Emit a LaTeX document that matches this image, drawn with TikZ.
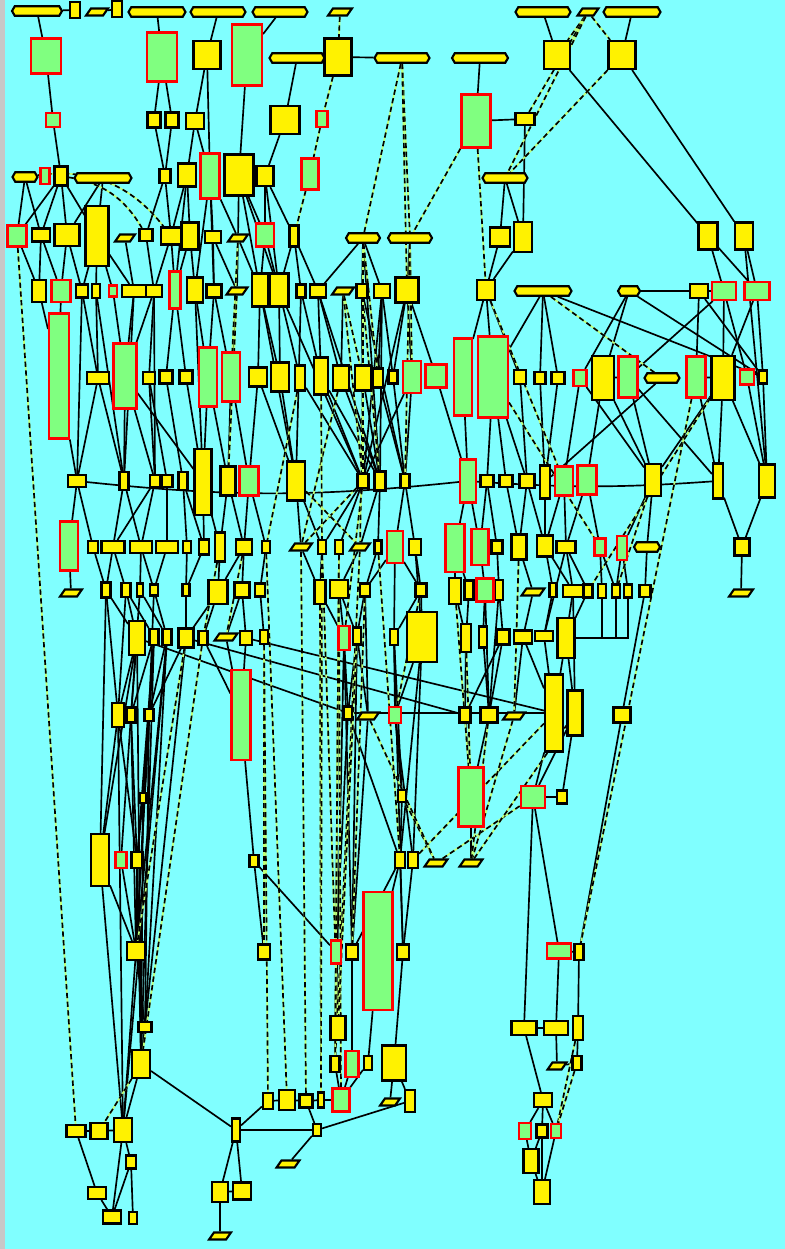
\documentclass[tikz,border=0pt]{standalone}
\usepackage{tikz}
\usetikzlibrary{shapes.symbols,backgrounds}
\definecolor{sky}{RGB}{128,255,255}
\definecolor{leaf}{RGB}{128,255,128}
\definecolor{lime}{RGB}{190,255,120}
\begin{document}
\begin{tikzpicture}[x=0.2mm,y=-0.2mm,
  every node/.style={inner sep=0pt,line width=1.2pt},
  ybox/.style={rectangle,draw=black,fill=yellow},
  gbox/.style={rectangle,draw=red,fill=leaf},
  oval/.style={signal,signal to=west and east,signal pointer angle=120,draw=black,fill=yellow,minimum height=1.9mm},
  para/.style={rectangle,draw=black,fill=yellow,minimum height=1.4mm,xslant=0.7,transform shape},
  link/.style={line width=0.95pt},
  dlink/.style={line width=0.95pt,dash pattern=on 3pt off 2pt,preaction={draw=lime,solid,line width=0.95pt}}]
\useasboundingbox (0,0) rectangle (785,1249);
\foreach \n/\x/\y/\w/\h in {
a2/75/10/10/16, a4/117/9/10/16,
b3/207/55/27/28, b6/338/57/27/37, b9/557/55/26/28, b10/622/55/27/28,
c2/154/120/13/15, c3/172/120/13/15, c4/195/121/18/16, c5/285/120/29/28, c8/525/119/19/12,
d3/61/176/13/19, d5/165/176/11/14, d6/187/175/18/23, d8/239/175/29/41, d9/265/176/17/20,
e2/41/235/18/13, e3/67/235/25/22, e4/97/236/23/60, e6/146/235/13/12, e7/171/236/20/17, e8/190/236/17/27, e9/213/237/16/12, e12/294/236/9/21, e15/500/237/20/19, e16/523/237/18/30, e17/708/236/19/27, e18/744/236/18/27,
f1/39/291/14/22, f3/82/291/12/13, f4/96/291/8/14, f6/134/291/24/12, f7/154/291/16/12, f9/195/290/16/25, f10/214/291/15/13, f12/260/290/16/33, f13/279/290/19/33, f14/301/291/9/13, f15/318/291/16/13, f17/362/291/11/14, f18/382/291/16/14, f19/407/290/23/25, f20/486/290/18/20, f23/699/291/18/14,
g2/98/378/22/12, g4/149/378/12/12, g5/166/377/13/13, g6/186/377/13/13, g9/258/377/18/19, g10/280/377/18/29, g11/300/378/10/25, g12/321/376/14/37, g13/341/378/16/25, g14/363/378/16/25, g15/378/378/10/19, g16/393/377/9/13, g21/520/377/12/14, g22/540/378/11/12, g23/558/378/13/12, g25/603/378/22/44, g29/723/378/23/44, g31/763/377/8/13,
h1/77/481/18/12, h2/124/481/9/18, h3/155/481/10/12, h4/167/481/11/12, h5/183/481/9/18, h6/203/482/17/66, h7/228/481/15/29, h9/296/481/18/39, h10/363/481/11/14, h11/380/481/11/19, h12/405/481/9/14, h14/487/481/13/12, h15/506/481/13/12, h16/527/481/15/14, h17/545/482/10/33, h20/653/480/16/32, h21/718/481/10/35, h22/767/481/16/33,
i2/93/547/10/12, i3/113/547/23/12, i4/141/547/22/12, i5/167/547/22/12, i6/187/547/8/12, i7/204/547/10/15, i8/220/547/10/29, i9/244/547/16/15, i10/266/547/8/12, i12/322/547/8/14, i13/339/547/8/14, i15/378/547/7/13, i17/415/547/12/16, i20/497/547/11/13, i21/519/547/15/25, i22/545/546/16/21, i23/566/547/19/12, i27/742/547/15/17,
j2/106/590/9/15, j3/126/590/9/14, j4/140/590/6/13, j5/154/590/8/11, j6/186/590/7/12, j7/218/592/19/24, j8/242/590/15/15, j9/260/590/10/13, j10/320/592/11/24, j11/339/589/18/18, j12/365/590/10/13, j13/421/590/11/13, j14/455/591/12/26, j15/469/590/9/19, j17/499/590/8/20, j19/553/590/7/14, j20/573/591/20/12, j21/588/591/9/13, j22/602/591/8/14, j23/616/591/8/13, j24/628/591/8/13, j25/645/591/11/12,
k1/137/638/16/34, k2/154/637/9/16, k3/167/637/9/16, k4/186/638/15/19, k5/203/638/9/14, k7/246/638/12/14, k8/264/637/8/14, k10/357/636/8/17, k11/394/637/8/16, k12/422/637/30/50, k13/466/638/10/28, k14/483/637/8/21, k15/503/637/13/15, k16/523/637/18/13, k17/544/636/18/10, k18/566/638/17/40,
l1/118/715/12/24, l2/131/715/9/15, l3/149/715/9/12, l5/348/713/8/13, l8/465/715/11/15, l9/489/715/17/15, l11/554/713/18/77, l12/575/713/15/45, l13/622/715/17/15,
m1/143/798/7/10, m2/402/796/8/12, m5/562/797/10/13,
n1/100/860/18/52, n3/137/860/11/16, n4/254/861/9/12, n5/400/860/10/16, n6/413/860/10/16,
o1/136/951/18/18, o2/264/952/12/15, o4/352/952/12/15, o6/403/952/12/15, o8/579/952/9/16,
p1/145/1027/13/10, p2/338/1028/15/24, p3/524/1028/25/14, p4/556/1028/24/14, p5/578/1028/10/24,
q1/141/1064/18/28, q2/335/1064/9/16, q4/368/1063/8/14, q5/394/1063/24/35, q7/577/1063/9/14,
r1/268/1101/10/16, r2/287/1100/16/20, r3/306/1101/13/13, r4/321/1100/6/15, r7/410/1101/10/22, r8/543/1100/18/14,
s1/76/1131/19/12, s2/99/1131/17/16, s3/123/1130/18/24, s4/236/1130/8/23, s5/317/1130/8/12, s7/542/1131/11/13,
t1/131/1162/10/13, t3/531/1161/15/24,
u1/97/1193/18/12, u2/220/1192/16/20, u3/242/1191/18/17, u4/542/1192/16/24,
v1/112/1217/18/13, v2/133/1218/8/12}
  \node[ybox,minimum width=\w*0.2mm,minimum height=\h*0.2mm] (\n) at (\x,\y) {};
\foreach \n/\x/\y/\w/\h in {
b1/46/56/30/35, b2/162/57/30/49, b4/247/55/30/61, c1/53/120/14/14, c6/322/119/11/16, c7/476/121/29/53,
d2/45/176/9/16, d7/210/176/19/45, d10/310/174/17/31, e1/17/236/19/21, e11/265/235/18/23,
f2/61/291/19/22, f5/113/291/8/11, f8/175/290/11/37, f24/724/291/24/18, f25/757/291/25/18,
g1/59/376/20/125, g3/125/376/23/65, g7/208/377/18/59, g8/231/377/18/49, g17/412/377/18/32, g18/436/376/21/23, g19/463/377/18/77, g20/493/377/30/81, g24/580/378/13/16, g26/628/377/19/41, g28/696/377/19/41, g30/747/377/14/15,
h8/249/481/19/29, h13/468/481/16/43, h18/564/481/18/29, h19/587/480/19/29,
i1/69/546/18/49, i16/395/547/16/32, i18/455/548/19/48, i19/480/547/17/36, i24/600/547/11/17, i25/622/548/10/24,
j16/485/590/17/23, k9/344/638/11/24, l4/241/715/19/90, l7/395/715/12/16, m3/471/797/25/59, m4/533/797/24/22,
n2/121/860/11/16, o3/336/952/10/23, o5/378/951/29/118, o7/559/951/24/15, q3/352/1064/13/26, r5/341/1100/17/23, s6/525/1131/12/16, s8/556/1131/10/14}
  \node[gbox,minimum width=\w*0.2mm,minimum height=\h*0.2mm] (\n) at (\x,\y) {};
\foreach \n/\x/\y/\w in {
a1/37/11/50, a5/157/12/57, a6/218/12/55, a7/280/12/55, a9/543/12/55, a11/632/12/57,
b5/297/58/55, b7/402/58/55, b8/480/58/56, d1/25/177/25, d4/103/178/57, d11/505/178/45,
e13/363/238/34, e14/410/238/44, f21/543/291/57, f22/629/291/22, g27/662/378/35, i26/647/547/26}
  \node[oval,minimum width=\w*0.2mm] (\n) at (\x,\y) {};
\foreach \n/\x/\y/\w in {
a3/97/12/17, a8/340/12/19, a10/588/12/16, e5/125/238/15, e10/238/238/15, f11/237/291/16, f16/343/291/17,
i11/301/547/17, i14/360/547/15, j1/71/593/17, j18/533/592/18, j26/741/593/19, k6/226/637/18, l6/368/716/17,
l10/514/716/17, n7/436/863/18, n8/471/863/18, q6/557/1066/14, r6/390/1102/15, t2/288/1164/18, v3/220/1236/17}
  \node[para,minimum width=\w*0.2mm] (\n) at (\x,\y) {};
\begin{pgfonlayer}{background}
\fill[sky] (0,0) rectangle (785,1249);
\fill[black!22] (0,0) rectangle (5,1249);
\foreach \a/\b in {
a1/a2, a3/a4, a1/b1, b1/c1, c1/d3, a5/b2, b2/c2, b2/c3, a6/b3, b3/c4, b3/d7, a7/b4, b4/d8, c2/d5, c3/d5, c4/d6, c4/d7, b5/c5, c5/d9, b6/b5, b6/b7, b8/c7, c7/c8, a9/b9, a11/b10, b9/e17, b10/e18, d11/e15, d11/e16, c8/e16,
d1/e1, d1/e2, d3/e1, d3/e2, d3/e3, d3/e4, d4/e3, d4/e4, d5/e6, d5/e7, d6/e7, d6/e8, d7/e9, d7/e10, d8/e10, d8/e11, d9/e11, d9/e12, d7/f9, d7/f10, d6/f8, d8/f12, d8/f13, d9/f13, e14/f19, e13/f17, e13/f18, e13/f15, e15/f20, e16/f20, e17/f24, e17/f25, e18/f25, e18/h22, f22/f23, f23/f24,
e1/f1, e2/f1, e2/f2, e3/f2, e3/f3, e4/f3, e4/f4, e4/f5, e4/f6, e5/f6, e6/f7, e7/f7, e7/f8, e8/f8, e8/f9, e9/f10, e9/f11, e10/f11, e10/f12, e11/f12, e11/f13, e12/f13, e12/f14, e12/f15,
f1/g1, f2/g1, f3/g2, f4/g2, f5/g3, f6/g3, f7/g3, f7/g4, f8/g5, f8/g6, f9/g7, f10/g7, f10/g8, f11/g8, f12/g9, f12/g10, f13/g10, f13/g11, f14/g12, f15/g12, f15/g13, f16/g13, f17/g14, f18/g15, f18/g16, f19/g16, f19/g17, f19/g18, f20/g19, f20/g20, f20/g21, f21/g22, f21/g23, f21/g20, f22/g24, f22/g25, f23/g28, f24/g29, f24/g30, f25/g29, f25/g31, f24/g26, f21/g31, f22/g31, f23/g31,
f6/h2, f7/h3, f9/h6, f12/h9, f13/h10, f15/h11, f17/h12, f18/h11, f3/h1, f4/h2, g25/g26, g28/g29, f19/h10, f18/h10, f14/h9, e13/h11, f17/h10,
g1/h1, g2/h1, g3/h2, g3/h3, g3/h6, g4/h4, g5/h5, g6/h6, g7/h6, g7/h7, g8/h8, g8/h7, g9/h9, g10/h9, g11/h10, g12/h10, g12/h11, g13/h11, g14/h11, g15/h12, g16/h12, g17/h12, g17/h10, g18/h13, g19/h13, g20/h14, g20/h15, g20/h16, g21/h16, g22/h17, g23/h17, g24/h18, g25/h19, g25/h20, g26/h20, g27/h17, g28/h21, g29/h21, g29/h22, g30/h22, g31/h22, g24/h20, g2/h2, g4/h3, g9/h8, g26/h21, g29/h20,
h1/i1, h1/i2, h2/i3, h3/i4, h4/i5, h5/i6, h6/i7, h6/i8, h7/i8, h7/i9, h8/i9, h8/i10, h9/i11, h9/i12, h10/i13, h10/i12, h11/i14, h11/i15, h12/i16, h12/i17, h13/i18, h13/i19, h14/i19, h14/i20, h15/i21, h16/i21, h17/i22, h18/i22, h18/i23, h19/i23, h19/i24, h20/i25, h20/i26, h21/i27, h22/i27, h2/i4, h5/i7, h16/i22, h3/i3, i26/j25,
i1/j1, i2/j2, i3/j2, i3/j3, i4/j4, i4/j5, i5/j5, i6/j6, i7/j6, i8/j7, i9/j8, i9/j7, i10/j9, i11/j10, i12/j10, i13/j11, i14/j11, i15/j12, i16/j12, i16/j13, i17/j13, i18/j14, i18/j15, i19/j16, i20/j17, i21/j18, i22/j19, i22/j20, i23/j21, i23/j20, i24/j22, i24/j23, i25/j24, i25/j23, i27/j26,
j2/k1, j3/k1, j3/k2, j4/k3, j5/k3, j6/k4, j7/k5, j7/k4, j8/k6, j8/k7, j9/k8, j10/k9, j11/k9, j11/k10, j12/k10, j13/k11, j13/k12, j14/k13, j15/k13, j16/k14, j17/k15, j18/k16, j19/k17, j20/k18, j21/k18, i16/k11, i17/k12, i23/k17,
k1/l1, k1/l2, k2/l2, k3/l3, k4/l3, k5/l4, k6/l4, k7/l4, k9/l5, k10/l6, k11/l7, k12/l7, k13/l8, k14/l9, k15/l9, k16/l10, k17/l11, k18/l12, k18/l11, j25/l13, k1/l5, l5/l11, k4/l8, k7/l11, j20/l12, k16/l11, k15/l8, j16/l9, j17/l9, j12/l6,
l1/n1, l1/n3, l2/n3, l2/n2, l3/m1, m1/n3, l4/n4, l7/m2, m2/n5, l5/n5, l8/m3, l9/m3, l11/m4, l12/m4, l12/m5, m4/m5, m3/n8, m4/o7, l13/o8, j2/l1, j3/l1, k1/n1, k2/o1, k3/p1, l3/p1, k4/q1, l1/s3, n1/s3, m1/q1, k11/m2, k10/l5, j11/o3, k9/o4, n5/o5,
k1/q1, k2/q1, k3/s3, l2/o1, l3/o1, j4/l2, j5/l3, k2/n3, n3/q1, o1/s3, k3/o1, j2/n1, k9/q2, k10/o4, l5/o3, l6/o4, k11/o6, k12/n5, k12/n6, l7/n6,
n1/o1, n3/o1, n2/o1, o1/p1, p1/q1, q1/s3, n4/o2, n5/o6, n6/o6, n5/o4, o4/q3, o6/q5, o3/q2, q2/r5, q3/r5, q4/r5, q5/r6, q5/r7, n4/o3, o5/q4,
m4/p3, p3/p4, o7/p4, o8/p5, p5/q7, p4/q6, p3/r8, r8/s7, s7/t3, s6/t3, t3/u4, s7/u4, s8/u4, r8/s6, r8/s8, q7/q6, o7/o8,
s1/s2, s2/s3, s1/u1, u1/v1, s3/t1, t1/v1, t1/v2, s3/v1, s4/u2, s4/u3, u2/u3, u2/v3, s4/r1, s5/t2, r3/s5, q1/s4, s4/s5, s5/r7, r1/r2, r2/r3, r3/r4, r4/r5}
  \draw[link] (\a) -- (\b);
\foreach \a in {j22,j23,j24}
  \draw[link] (\a) |- (k18);
\foreach \a/\b/\t in {h1/h13/-6, h13/h21/-4}
  \draw[link] (\a) to[bend left=\t] (\b);
\foreach \a/\b in {
e1/s1, a8/b6, b6/c6, c6/d10, d10/e12, b7/e13, b7/e14, b7/f19, e14/g17, e13/g15, c7/f20, c7/e14, a10/b9, a10/b10, a10/c8, a10/d11, b10/d11,
g28/o8, g29/j21, h10/i11, h9/i14, g13/i11, g14/i14, f16/h10, f17/h11, e13/h10, e14/h12, f16/g14, i11/r3, i12/p2, i14/q2, k8/o2, i13/o3,
n7/m4, n8/l12, n6/l11, m2/n7, l6/n7, l10/n8, l9/n8, i15/n5, j12/o4, i21/l10, j14/m3, k13/m3, f21/g27, f20/h18, g20/i24, h20/j23,
i9/k6, i8/k5, k8/r1, i10/r2, j10/r4, k4/o1, k5/q1, q1/s2, p5/s8, q7/s8, f11/h7, e10/g8,
i12/r4, j11/r5, k10/p2, i13/q2, h10/k9, g12/i12, g11/i10, j13/l7}
  \draw[dlink] (\a) -- (\b);
\foreach \a/\b/\t in {d1/e7/30, d3/e6/25}
  \draw[dlink] (\a) to[bend left=\t] (\b);
\end{pgfonlayer}
\end{tikzpicture}
\end{document}
